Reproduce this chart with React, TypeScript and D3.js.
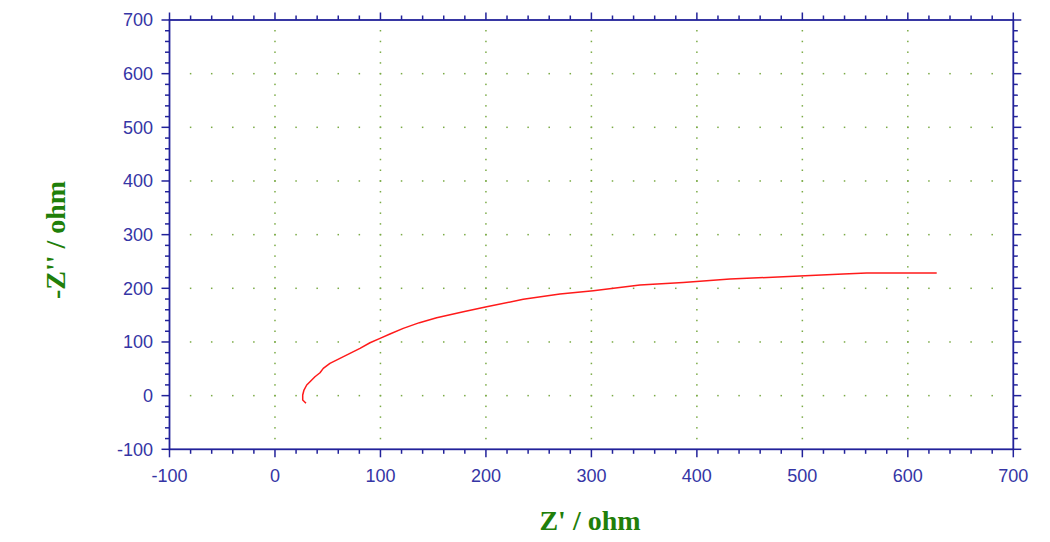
import React from "react";
import * as d3 from "d3";

const zReal = [29.4, 26.3, 26.3, 27.5, 30.1, 33.2, 37.9, 42.7, 45.8, 52.1, 61.6, 71.1, 80.6, 90.1, 99.6, 109, 121.6, 137, 153.3, 178.6, 200.7, 235.4, 270.2, 301.8, 346, 387, 431.4, 481.9, 538.8, 561, 627.4];
const zImag = [-14.3, -8.2, 1.1, 10.4, 19.8, 25.9, 35.2, 42.7, 50.9, 60.2, 69.5, 78.8, 88.1, 98.6, 106.8, 114.8, 125.4, 136, 145.2, 156.4, 165.7, 179.5, 189.3, 195.5, 206, 211, 217.3, 221.6, 226.6, 228.5, 228.5];
const xTicks = [-100, 0, 100, 200, 300, 400, 500, 600, 700];
const yTicks = [-100, 0, 100, 200, 300, 400, 500, 600, 700];
const xTitle = "Z' / ohm";
const yTitle = "-Z'' / ohm";

const W = 1050, H = 542;
const L = 169.5, R = 1013.3, T = 20, B = 449.3;
const axisColor = "#22229a";
const labelColor = "#3535a5";
const gridColor = "#7aaa45";
const titleColor = "#1f7f0a";

export default function App() {
  const x = d3.scaleLinear().domain([-100, 700]).range([L, R]);
  const y = d3.scaleLinear().domain([-100, 700]).range([B, T]);
  const minorX = d3.range(-100, 701, 20);
  const minorY = d3.range(-100, 701, 20);
  const pts = zReal.map((v, i) => [v, zImag[i]] as [number, number]);
  const line = d3.line<[number, number]>().x(d => x(d[0])).y(d => y(d[1])).curve(d3.curveLinear);
  const gridX = xTicks.filter(v => v > -100 && v < 700);
  const gridY = yTicks.filter(v => v > -100 && v < 700);
  const dots: JSX.Element[] = [];
  gridX.forEach(gx => {
    minorY.filter(v => v > -100 && v < 700).forEach(v => {
      dots.push(<rect key={`v${gx}_${v}`} x={x(gx) - 0.75} y={y(v) - 0.75} width={1.5} height={1.5} fill={gridColor} />);
    });
  });
  gridY.forEach(gy => {
    minorX.filter(v => v > -100 && v < 700).forEach(v => {
      dots.push(<rect key={`h${gy}_${v}`} x={x(v) - 0.75} y={y(gy) - 0.75} width={1.5} height={1.5} fill={gridColor} />);
    });
  });
  const isMajor = (v: number) => v % 100 === 0;
  return (
    <svg width={W} height={H} style={{ position: "absolute", left: 0, top: 0, background: "#fff" }}>
      <g>{dots}</g>
      <path d={line(pts) || ""} fill="none" stroke="#ff1a1a" strokeWidth={1.5} strokeLinejoin="round" />
      <rect x={L} y={T} width={R - L} height={B - T} fill="none" stroke={axisColor} strokeWidth={1.8} />
      {minorX.map(v => (
        <g key={`xt${v}`}>
          <line x1={x(v)} x2={x(v)} y1={B} y2={B + (isMajor(v) ? 8 : 4.5)} stroke={axisColor} strokeWidth={1.5} />
          <line x1={x(v)} x2={x(v)} y1={T} y2={T - (isMajor(v) ? 7.5 : 4.5)} stroke={axisColor} strokeWidth={1.5} />
        </g>
      ))}
      {minorY.map(v => (
        <g key={`yt${v}`}>
          <line x1={L} x2={L - (isMajor(v) ? 8 : 4.5)} y1={y(v)} y2={y(v)} stroke={axisColor} strokeWidth={1.5} />
          <line x1={R} x2={R + (isMajor(v) ? 8 : 4.5)} y1={y(v)} y2={y(v)} stroke={axisColor} strokeWidth={1.5} />
        </g>
      ))}
      {xTicks.map(v => (
        <text key={`xl${v}`} x={x(v)} y={481.5} textAnchor="middle" fontFamily="Arial, 'Liberation Sans', sans-serif" fontSize={18} fill={labelColor}>{v}</text>
      ))}
      {yTicks.map(v => (
        <text key={`yl${v}`} x={153} y={y(v)} dy="0.35em" textAnchor="end" fontFamily="Arial, 'Liberation Sans', sans-serif" fontSize={18} fill={labelColor}>{v}</text>
      ))}
      <text x={590} y={530} textAnchor="middle" fontFamily="'Times New Roman', 'Liberation Serif', serif" fontWeight="bold" fontSize={28} fill={titleColor}>{xTitle}</text>
      <text transform="translate(65,240) rotate(-90)" textAnchor="middle" fontFamily="'Times New Roman', 'Liberation Serif', serif" fontWeight="bold" fontSize={28} fill={titleColor}>{yTitle}</text>
    </svg>
  );
}
